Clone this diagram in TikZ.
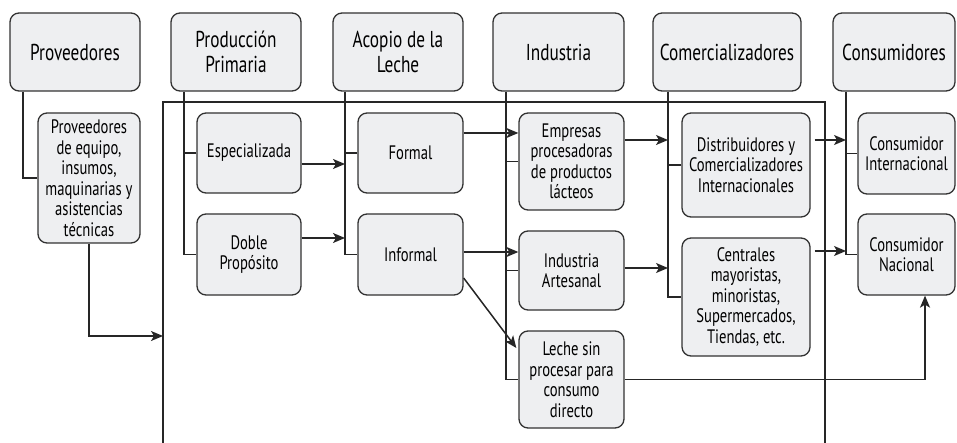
\documentclass[tikz,border=0pt]{standalone}
\usepackage{fontspec}
\setmainfont[FakeStretch=0.75]{PT Sans}
\usetikzlibrary{arrows.meta}
\definecolor{boxfill}{RGB}{238,239,241}
\definecolor{boxline}{RGB}{50,50,50}
\begin{document}
\begin{tikzpicture}[x=1pt,y=-1pt,
  box/.style={draw=boxline, fill=boxfill, rounded corners=9pt, line width=1.3pt, align=center, inner sep=0pt, font=\fontsize{19.5}{20.5}\selectfont},
  head/.style={box, minimum height=78pt, font=\fontsize{23}{25}\selectfont},
  conn/.style={line width=1.5pt, draw=black!85},
  arr/.style={conn, -{Stealth[length=12pt,width=10pt,inset=3pt]}}]
\useasboundingbox (0,0) rectangle (957,443);
% headers
\node[head, minimum width=130pt] (prov) at (75,52) {Proveedores};
\node[head, minimum width=130pt] (prod) at (236,52) {Producción\\Primaria};
\node[head, minimum width=130pt] (acop) at (398,52) {Acopio de la\\Leche};
\node[head, minimum width=131pt] (ind) at (558.5,52) {Industria};
\node[head, minimum width=148pt] (com) at (727,52) {Comercializadores};
\node[head, minimum width=122pt] (cons) at (894,52) {Consumidores};
% big frame
\coordinate (rbl) at (163,443);
\coordinate (rtl) at (163,102);
\coordinate (rtr) at (825,102);
\coordinate (rbr) at (825,443);
\coordinate (pin) at (163,336);
\draw[conn] (rbl) -- (rtl) -- (rtr) -- (rbr);
% sub boxes
\node[box, minimum width=102pt, minimum height=130pt] (peq) at (89,178) {Proveedores\\de equipo,\\insumos,\\maquinarias y\\asistencias\\técnicas};
\node[box, minimum width=104pt, minimum height=80pt] (esp) at (249,153) {Especializada};
\node[box, minimum width=104pt, minimum height=81pt] (dob) at (249,254.5) {Doble\\Propósito};
\node[box, minimum width=105pt, minimum height=80pt] (for) at (410.5,153) {Formal};
\node[box, minimum width=105pt, minimum height=81pt] (inf) at (410.5,254.5) {Informal};
\node[box, minimum width=105pt, minimum height=97pt] (emp) at (571.5,161.5) {Empresas\\procesadoras\\de productos\\lácteos};
\node[box, minimum width=105pt, minimum height=79pt] (art) at (571.5,270.5) {Industria\\Artesanal};
\node[box, minimum width=105pt, minimum height=97pt] (lec) at (571.5,379.5) {Leche sin\\procesar para\\consumo\\directo};
\node[box, minimum width=128pt, minimum height=104pt] (dis) at (746,165) {Distribuidores y\\Comercializadores\\Internacionales};
\node[box, minimum width=128pt, minimum height=118pt] (cen) at (746,297) {Centrales\\mayoristas,\\minoristas,\\Supermercados,\\Tiendas, etc.};
\node[box, minimum width=97pt, minimum height=81pt] (cint) at (906.5,153.5) {Consumidor\\Internacional};
\node[box, minimum width=97pt, minimum height=81pt] (cnac) at (906.5,254.5) {Consumidor\\Nacional};
% trunks
\coordinate (t1) at ([xshift=-52pt]prov.south);
\coordinate (t2) at ([xshift=-52pt]prod.south);
\coordinate (t3) at ([xshift=-53pt]acop.south);
\coordinate (t4) at ([xshift=-52.5pt]ind.south);
\coordinate (t5) at ([xshift=-59pt]com.south);
\coordinate (t6) at ([xshift=-48pt]cons.south);
\draw[conn] (t1) |- (peq.west);
\draw[conn] (t2) |- (dob.west);
\draw[conn] (esp.west) -- (esp.west -| t2);
\draw[conn] (t3) |- (inf.west);
\draw[conn] (for.west) -- (for.west -| t3);
\draw[conn] (t4) |- (lec.west);
\draw[conn] (emp.west) -- (emp.west -| t4);
\draw[conn] (art.west) -- (art.west -| t4);
\draw[conn] (t5) |- (cen.west);
\draw[conn] (dis.west) -- (dis.west -| t5);
\draw[conn] (t6) |- (cnac.west);
\draw[conn] (cint.west) -- (cint.west -| t6);
% arrows
\draw[arr] (peq.south) |- (pin);
\draw[arr] ([yshift=-11pt]esp.east) -- ([yshift=-11pt]esp.east -| t3);
\draw[arr] ([yshift=16.5pt]dob.east) -- ([yshift=16.5pt]dob.east -| t3);
\draw[arr] ([yshift=20pt]for.east) -- ([yshift=20pt]for.east -| emp.west);
\draw[arr] ([yshift=2.5pt]inf.east) -- ([yshift=2.5pt]inf.east -| art.west);
\draw[arr] ([yshift=-23.5pt]inf.east) -- ([xshift=-2pt,yshift=31.5pt]lec.west);
\draw[arr] ([yshift=21.5pt]emp.east) -- ([yshift=21.5pt]emp.east -| t5);
\draw[arr] ([yshift=2.5pt]art.east) -- ([yshift=2.5pt]art.east -| t5);
\draw[arr] ([xshift=4pt,yshift=25pt]dis.east) -- ([yshift=25pt]dis.east -| t6);
\draw[arr] ([xshift=4pt,yshift=46pt]cen.east) -- ([yshift=46pt]cen.east -| t6);
\draw[arr] (lec.east) -| ([xshift=18.5pt]cnac.south);
\end{tikzpicture}
\end{document}
